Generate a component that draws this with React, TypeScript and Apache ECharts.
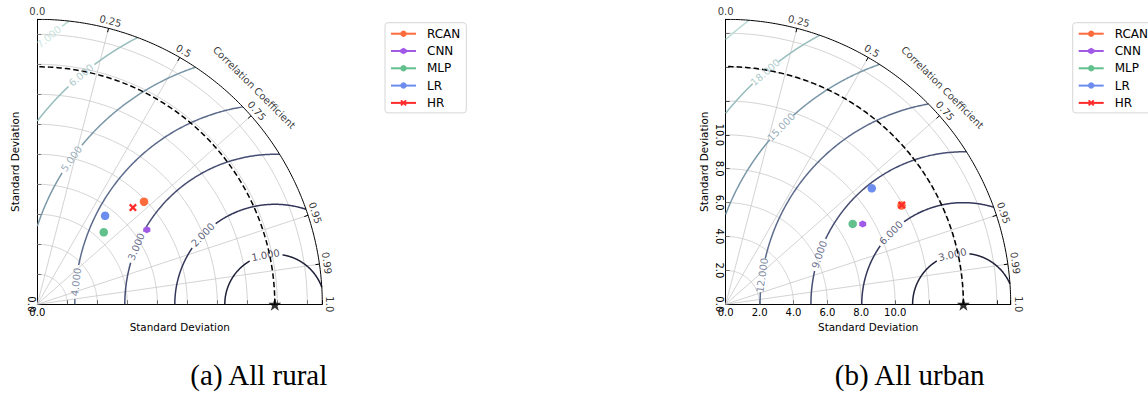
import React, { useEffect, useRef } from 'react';
import * as echarts from 'echarts';

// ---------- data ----------
const MODELS = ['RCAN', 'CNN', 'MLP', 'LR', 'HR'];
const MODEL_COLORS = ['#ff6b3d', '#a05ae6', '#62c08c', '#6c8ded', '#ff2b2b'];

const RURAL_STD = [2.96, 2.65, 1.96, 2.23, 2.72];
const RURAL_CORR = [0.721, 0.827, 0.678, 0.608, 0.703];
const URBAN_STD = [11.9, 9.37, 8.87, 11.01, 11.93];
const URBAN_CORR = [0.872, 0.863, 0.845, 0.783, 0.871];

const RURAL_REF_STD = 4.75;
const URBAN_REF_STD = 14.03;

const RURAL_RMS_LEVELS = [1, 2, 3, 4, 5, 6, 7];
const URBAN_RMS_LEVELS = [3, 6, 9, 12, 15, 18, 21];
const RURAL_RMS_LABEL_ANGLES: (number | null)[] = [100.6, 136, 157.4, 173.6, 144.4, 130.2, 130.2];
const URBAN_RMS_LABEL_ANGLES: (number | null)[] = [102.4, 135.3, 161, 171.8, 135.8, 130.5, null];

const CORR_TICKS = [0, 0.25, 0.5, 0.75, 0.95, 0.99, 1.0];
const CORR_TICK_LABELS = ['0.0', '0.25', '0.5', '0.75', '0.95', '0.99', '1.0'];
const CORR_GRID = [0.25, 0.5, 0.75, 0.95, 0.99];

const RURAL_STD_MAX = 5.7;
const RURAL_STD_STEP = 0.6;
const RURAL_LABEL_MAX = 0;
const URBAN_STD_MAX = 16.82;
const URBAN_STD_STEP = 2;
const URBAN_LABEL_MAX = 10;

const CAPTIONS = ['(a) All rural', '(b) All urban'];

// ---------- styles ----------
const FONT = 'DejaVu Sans';
const SIZE = 285;
const TOP = 19.3;
const RMS_COLORS = ['#1f2139', '#33375a', '#474e73', '#5d6c8c', '#7b98a8', '#96bcbc', '#b8dbd5'];
const HEX = 'path://M0,-10L8.66,-5L8.66,5L0,10L-8.66,5L-8.66,-5Z';
const XMARK = 'path://M-10,-6L-6,-10L0,-4L6,-10L10,-6L4,0L10,6L6,10L0,4L-6,10L-10,6L-4,0Z';
const STAR = 'path://M0,-10L2.35,-3.24L9.51,-3.09L3.8,1.24L5.88,8.09L0,4L-5.88,8.09L-3.8,1.24L-9.51,-3.09L-2.35,-3.24Z';
const MODEL_SYMBOLS = ['circle', HEX, 'circle', 'circle', XMARK];
const MODEL_SIZES = [8.5, 7, 8.5, 8.5, 8];

type Panel = {
  std: number[];
  corr: number[];
  ref: number;
  max: number;
  step: number;
  labelMax: number;
  levels: number[];
  labelAngles: (number | null)[];
  left: number;
};

const rad = (d: number) => (d * Math.PI) / 180;
const acosDeg = (c: number) => (Math.acos(Math.max(-1, Math.min(1, c))) * 180) / Math.PI;
const pol = (r: number, deg: number) => [r * Math.cos(rad(deg)), r * Math.sin(rad(deg))];
const arc = (r: number, a0: number, a1: number, n = 120) => {
  const pts: number[][] = [];
  for (let i = 0; i <= n; i++) pts.push(pol(r, a0 + ((a1 - a0) * i) / n));
  return pts;
};

function buildPanel(p: Panel, gi: number) {
  const scale = SIZE / p.max;
  const axisIdx = { xAxisIndex: gi, yAxisIndex: gi };

  const grey: any[] = [];
  for (let k = 1; k * p.step < p.max - 1e-6; k++) grey.push({ coords: arc(k * p.step, 0, 90) });
  CORR_GRID.forEach((c) => grey.push({ coords: [[0, 0], pol(p.max, acosDeg(c))] }));

  const black: any[] = [{ coords: arc(p.max, 0, 90, 180) }];
  CORR_TICKS.filter((c) => c > 0 && c < 1).forEach((c) =>
    black.push({ coords: [pol(p.max - 4 / scale, acosDeg(c)), pol(p.max, acosDeg(c))] })
  );

  const contours: any[] = [];
  const contourLabels: any[] = [];
  const d = p.ref;
  p.levels.forEach((L, i) => {
    const c1 = (p.max * p.max - d * d - L * L) / (2 * d * L);
    const phi1 = acosDeg(c1);
    const phi2 = acosDeg(-d / L);
    if (phi1 >= phi2) return;
    const color = RMS_COLORS[i];
    const seg = (a0: number, a1: number) => {
      if (a1 <= a0) return;
      const pts: number[][] = [];
      const n = 160;
      for (let k = 0; k <= n; k++) {
        const a = rad(a0 + ((a1 - a0) * k) / n);
        pts.push([d + L * Math.cos(a), L * Math.sin(a)]);
      }
      contours.push({ coords: pts, lineStyle: { color, width: 1.5, opacity: 1 } });
    };
    const la = p.labelAngles[i];
    if (la == null) {
      seg(phi1, phi2);
    } else {
      const gap = ((17 / (L * scale)) * 180) / Math.PI;
      seg(phi1, la - gap);
      seg(la + gap, phi2);
      contourLabels.push({
        name: L.toFixed(3),
        value: [d + L * Math.cos(rad(la)), L * Math.sin(rad(la))],
        label: { rotate: la - 90, color },
      });
    }
  });

  const corrLabels = CORR_TICKS.map((c, i) => {
    const th = acosDeg(c);
    return { name: CORR_TICK_LABELS[i], value: pol(p.max + 7.5 / scale, th), label: { rotate: th - 90 } };
  });
  corrLabels.push({ name: 'Correlation Coefficient', value: pol(p.max + 21.7 / scale, 45), label: { rotate: -45 } });

  const series: any[] = [
    {
      type: 'lines', ...axisIdx, coordinateSystem: 'cartesian2d', polyline: true, silent: true, z: 1,
      lineStyle: { color: '#c8c8c8', width: 0.8, opacity: 1 }, data: grey,
    },
    {
      type: 'lines', ...axisIdx, coordinateSystem: 'cartesian2d', polyline: true, silent: true, z: 3,
      lineStyle: { color: '#000', width: 1, opacity: 1 }, data: black,
    },
    {
      type: 'lines', ...axisIdx, coordinateSystem: 'cartesian2d', polyline: true, silent: true, z: 4,
      lineStyle: { color: '#000', width: 1.5, opacity: 1, type: [5.5, 3] },
      data: [{ coords: arc(p.ref, 0, 90, 180) }],
    },
    {
      type: 'lines', ...axisIdx, coordinateSystem: 'cartesian2d', polyline: true, silent: true, z: 2,
      lineStyle: { width: 1.5, opacity: 1 }, data: contours,
    },
    {
      type: 'scatter', ...axisIdx, silent: true, clip: false, symbolSize: 0, z: 5,
      label: { show: true, position: 'inside', formatter: '{b}', fontSize: 10, fontFamily: FONT },
      data: contourLabels,
    },
    {
      type: 'scatter', ...axisIdx, silent: true, clip: false, symbolSize: 0, z: 5,
      label: { show: true, position: 'inside', formatter: '{b}', fontSize: 10, fontFamily: FONT, color: '#000' },
      data: corrLabels,
    },
  ];

  MODELS.forEach((m, i) => {
    series.push({
      type: 'line', name: m, ...axisIdx, z: 10,
      data: [pol(p.std[i], acosDeg(p.corr[i]))],
      symbol: MODEL_SYMBOLS[i], symbolSize: MODEL_SIZES[i], showSymbol: true,
      itemStyle: { color: MODEL_COLORS[i] },
      lineStyle: { color: MODEL_COLORS[i], width: 1.5 },
    });
  });
  series.push({
    type: 'scatter', ...axisIdx, silent: true, clip: false, z: 11,
    data: [[p.ref, 0]], symbol: STAR, symbolSize: 13, itemStyle: { color: '#000' },
  });

  const fmt = (v: number) => (v <= p.labelMax + 1e-6 ? v.toFixed(1) : '');
  const common = {
    gridIndex: gi, type: 'value', min: 0, max: p.max, interval: p.step,
    axisLine: { show: true, onZero: false, lineStyle: { color: '#000', width: 1 } },
    axisTick: { show: true, inside: true, length: 4, lineStyle: { color: '#000', width: 1 } },
    splitLine: { show: false },
    name: 'Standard Deviation', nameLocation: 'middle',
    nameTextStyle: { fontSize: 10.4, fontFamily: FONT, color: '#000' },
  };
  const xAxis = {
    ...common, nameGap: 15.5,
    axisLabel: { show: true, formatter: fmt, fontSize: 10, fontFamily: FONT, color: '#000', margin: 3, showMinLabel: true },
  };
  const yAxis = {
    ...common, nameGap: 17,
    axisLabel: { show: true, formatter: fmt, fontSize: 10, fontFamily: FONT, color: '#000', margin: 1, rotate: -90, showMinLabel: true },
  };
  const grid = { left: p.left, top: TOP, width: SIZE, height: SIZE, containLabel: false };
  return { grid, xAxis, yAxis, series };
}

const legendOf = (left: number) => ({
  left, top: 22.7, orient: 'vertical', data: MODELS,
  itemWidth: 25, itemHeight: 8, itemGap: 3.3,
  textStyle: { fontSize: 12, fontFamily: FONT, color: '#000', lineHeight: 14, padding: [0, 0, 0, 6] },
  borderColor: '#d6d6d6', borderWidth: 1, borderRadius: 3, padding: [4, 6, 3, 5],
  selectedMode: false,
});

export default function App() {
  const ref = useRef<HTMLDivElement>(null);
  useEffect(() => {
    if (!ref.current) return;
    const chart = echarts.init(ref.current, null, { renderer: 'svg' });
    const rural = buildPanel({
      std: RURAL_STD, corr: RURAL_CORR, ref: RURAL_REF_STD, max: RURAL_STD_MAX, step: RURAL_STD_STEP,
      labelMax: RURAL_LABEL_MAX, levels: RURAL_RMS_LEVELS, labelAngles: RURAL_RMS_LABEL_ANGLES, left: 37.3,
    }, 0);
    const urban = buildPanel({
      std: URBAN_STD, corr: URBAN_CORR, ref: URBAN_REF_STD, max: URBAN_STD_MAX, step: URBAN_STD_STEP,
      labelMax: URBAN_LABEL_MAX, levels: URBAN_RMS_LEVELS, labelAngles: URBAN_RMS_LABEL_ANGLES, left: 725.7,
    }, 1);
    chart.setOption({
      animation: false,
      backgroundColor: '#fff',
      grid: [rural.grid, urban.grid],
      xAxis: [rural.xAxis, urban.xAxis],
      yAxis: [rural.yAxis, urban.yAxis],
      legend: [legendOf(385), legendOf(1072.7)],
      series: [...rural.series, ...urban.series],
      graphic: [
        { type: 'text', x: 258.8, y: 375, style: { text: CAPTIONS[0], font: '29px "Liberation Serif"', fill: '#000', textAlign: 'center', textVerticalAlign: 'middle' } },
        { type: 'text', x: 909.7, y: 375, style: { text: CAPTIONS[1], font: '29px "Liberation Serif"', fill: '#000', textAlign: 'center', textVerticalAlign: 'middle' } },
      ],
    });
    return () => chart.dispose();
  }, []);
  return <div ref={ref} style={{ position: 'fixed', left: 0, top: 0, width: 1148, height: 394 }} />;
}
